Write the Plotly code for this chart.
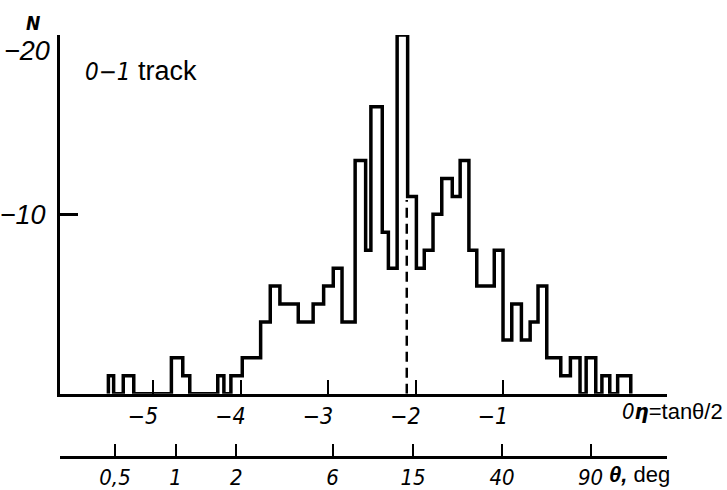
import numpy as np
import plotly.graph_objects as go

# ---- data ----
# step outline of the histogram: edges in eta units and counts in each segment
edges = [-5.51, -5.45, -5.34, -5.22, -4.79, -4.66, -4.58, -4.26, -4.19, -4.11,
         -3.98, -3.77, -3.66, -3.55, -3.34, -3.17, -3.05, -2.94, -2.84, -2.69,
         -2.57, -2.51, -2.38, -2.31, -2.21, -2.09, -1.99, -1.90, -1.80, -1.70,
         -1.58, -1.49, -1.39, -1.30, -1.10, -1.00, -0.90, -0.79, -0.69, -0.60,
         -0.50, -0.34, -0.23, -0.12, -0.05, 0.06, 0.13, 0.22, 0.31, 0.46]
counts = [1, 0, 1, 0, 2, 1, 0, 1, 0, 1,
          2, 4, 6, 5, 4, 5, 6, 7, 4, 13,
          8, 16, 9, 7, 20, 11, 7, 8, 10, 12,
          11, 13, 8, 6, 8, 3, 5, 3, 4, 6,
          2, 1, 2, 0, 2, 0, 1, 0, 1]

eta_ticks = [-5, -4, -3, -2, -1]
eta_ticklabels = ["−5", "−4", "−3", "−2", "−1"]
theta_deg = [0.5, 1, 2, 6, 15, 40, 90]
theta_labels = ["0,5", "1", "2", "6", "15", "40", "90"]
y_ticks = [10, 20]
y_ticklabels = ["−10", ""]
y_top_label = "−20"
mean_eta = -2.1
mean_top = 10.8
x_min, x_max = -6.063, 0.874
y_min, y_max = 0, 20

# ---- build outline ----
xs = [edges[0]]
ys = [0]
for i, c in enumerate(counts):
    xs += [edges[i], edges[i + 1]]
    ys += [c, c]
xs.append(edges[-1])
ys.append(0)

theta_eta = list(np.log(np.tan(np.radians(np.array(theta_deg)) / 2)))

NARROW = "Liberation Sans Narrow, DejaVu Sans Condensed, Roboto Condensed, Liberation Sans, sans-serif"
REG = "Liberation Sans, Arial, sans-serif"
NUM = dict(family=NARROW, size=23, color="black", style="italic")
YNUM = dict(family=REG, size=27, color="black", style="italic")

fig = go.Figure()
fig.add_trace(go.Scatter(x=xs, y=ys, mode="lines", line=dict(color="black", width=3.5),
                         cliponaxis=False, showlegend=False, hoverinfo="skip"))
fig.add_trace(go.Scatter(x=[mean_eta, mean_eta], y=[0, mean_top], mode="lines",
                         line=dict(color="black", width=2.5, dash="10px,6px"),
                         showlegend=False, hoverinfo="skip"))
fig.add_trace(go.Scatter(x=[x_min], y=[0], xaxis="x2", mode="markers",
                         marker=dict(opacity=0), showlegend=False, hoverinfo="skip"))

fig.update_layout(
    template="none",
    width=727, height=490,
    margin=dict(l=60, r=60, t=35, b=33),
    paper_bgcolor="white", plot_bgcolor="white",
    showlegend=False,
    xaxis=dict(range=[x_min, x_max], showline=True, linewidth=3, linecolor="black",
               ticks="inside", ticklen=14, tickwidth=2, tickcolor="black",
               tickvals=eta_ticks + [x_max], ticktext=eta_ticklabels + [""],
               tickfont=NUM, ticklabelshift=-10, showgrid=False, zeroline=False,
               anchor="y", automargin=False),
    xaxis2=dict(range=[x_min, x_max], overlaying="x", anchor="free", position=0,
                side="bottom", showline=True, linewidth=2.5, linecolor="black",
                ticks="inside", ticklen=12, tickwidth=2, tickcolor="black",
                tickvals=theta_eta, ticktext=theta_labels,
                tickfont=dict(family=NARROW, size=22, color="black", style="italic"),
                showgrid=False, zeroline=False, automargin=False),
    yaxis=dict(domain=[0.1500, 1], range=[y_min, y_max], showline=True, linewidth=3,
               linecolor="black", ticks="inside", ticklen=18, tickwidth=2.5,
               tickcolor="black", tickvals=y_ticks, ticktext=y_ticklabels,
               tickfont=YNUM, ticklabelstandoff=6,
               showgrid=False, zeroline=False, automargin=False),
)

fig.add_annotation(x=-0.044, y=1.028, xref="paper", yref="paper", showarrow=False,
                   xanchor="center", yanchor="middle",
                   text="<b><i>N</i></b>",
                   font=dict(family=NARROW, size=19, color="black"))
fig.add_annotation(x=-0.0132, y=0.963, xref="paper", yref="paper", showarrow=False,
                   xanchor="right", yanchor="middle", text=y_top_label, font=YNUM)
fig.add_annotation(x=-5.8, y=18.0, xref="x", yref="y", showarrow=False,
                   xanchor="left", yanchor="middle",
                   text=f"<span style='font-family:{NARROW};font-size:24px'><i>0−1</i></span> track",
                   font=dict(family=REG, size=27, color="black"))
fig.add_annotation(x=1.0955, y=0.109, xref="paper", yref="paper", showarrow=False,
                   xanchor="right", yanchor="middle",
                   text=f"<span style='font-family:{NARROW}'><i>0</i><b><i>η</i></b></span>=tanθ/2",
                   font=dict(family=REG, size=22, color="black"))
fig.add_annotation(x=0.19, y=-0.042, xref="x", yref="paper", showarrow=False,
                   xanchor="left", yanchor="middle",
                   text="<b><i>θ,</i></b> deg",
                   font=dict(family=REG, size=22, color="black"))

fig.write_html("out.html", config={"displayModeBar": False},
               post_script="document.body.style.margin='0px';"
                           "document.documentElement.style.margin='0px';")
